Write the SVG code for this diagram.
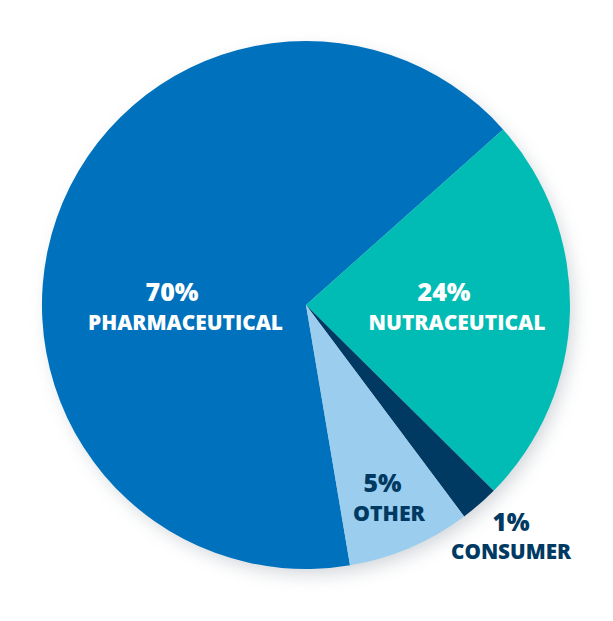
<svg xmlns="http://www.w3.org/2000/svg" width="613" height="621" viewBox="0 0 613 621">
  <defs>
    <filter id="shadow" x="-20%" y="-20%" width="140%" height="140%">
      <feGaussianBlur stdDeviation="9"/>
    </filter>
    <style>
      .lbl { font-family: "Open Sans", "Liberation Sans", sans-serif; font-weight: 800; text-anchor: middle; }
      .pct { font-size: 25px; }
      .name { font-size: 21px; }
      .white { fill: #FFFFFF; }
      .navy { fill: #003A63; }
    </style>
  </defs>
  <rect width="613" height="621" fill="#FFFFFF"/>
  <circle cx="311" cy="312" r="262" fill="#9AA3AD" opacity="0.45" filter="url(#shadow)"/>
  <g id="pharmaceutical">
    <path d="M306,305 L350,565.3 A264,264 0 1 1 503.1,129.4 Z" fill="#0071BC"/>
    <text class="lbl pct white" x="172" y="301" textLength="53" lengthAdjust="spacingAndGlyphs">70%</text>
    <text class="lbl name white" x="185.5" y="330" textLength="195" lengthAdjust="spacingAndGlyphs">PHARMACEUTICAL</text>
  </g>
  <g id="nutraceutical">
    <path d="M306,305 L503.1,129.4 A264,264 0 0 1 493.7,490.7 Z" fill="#00BCB4"/>
    <text class="lbl pct white" x="444" y="301" textLength="53" lengthAdjust="spacingAndGlyphs">24%</text>
    <text class="lbl name white" x="457" y="330" textLength="177" lengthAdjust="spacingAndGlyphs">NUTRACEUTICAL</text>
  </g>
  <g id="consumer">
    <path d="M306,305 L493.7,490.7 A264,264 0 0 1 464.1,516.4 Z" fill="#003A63"/>
    <text class="lbl pct navy" x="511" y="530.5" textLength="37" lengthAdjust="spacingAndGlyphs">1%</text>
    <text class="lbl name navy" x="511" y="559" textLength="120" lengthAdjust="spacingAndGlyphs">CONSUMER</text>
  </g>
  <g id="other">
    <path d="M306,305 L464.1,516.4 A264,264 0 0 1 350,565.3 Z" fill="#9BCDEE"/>
    <text class="lbl pct navy" x="382.5" y="491.5" textLength="38" lengthAdjust="spacingAndGlyphs">5%</text>
    <text class="lbl name navy" x="389" y="521" textLength="72" lengthAdjust="spacingAndGlyphs">OTHER</text>
  </g>
  <g id="connectors"/>
</svg>
